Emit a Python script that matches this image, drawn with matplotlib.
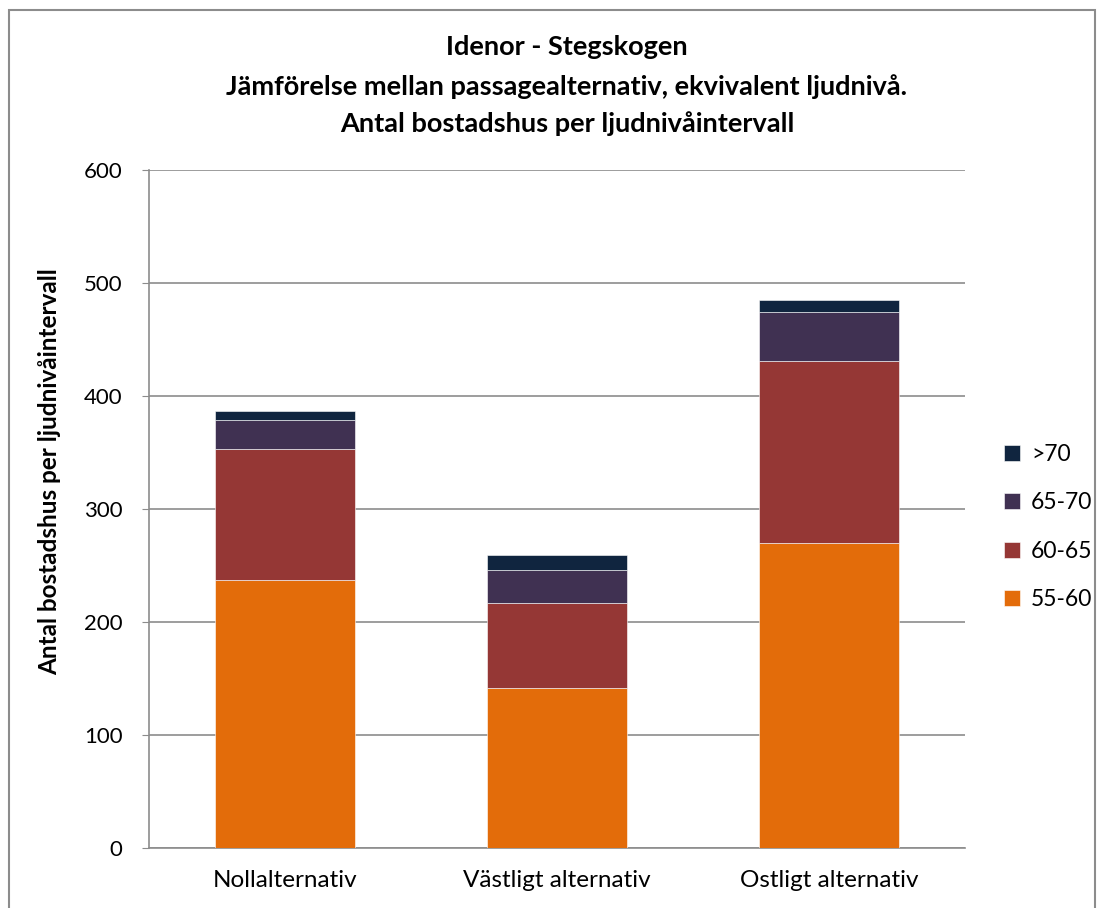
import matplotlib
matplotlib.use("Agg")
import matplotlib.pyplot as plt
from matplotlib.patches import Rectangle

categories = ["Nollalternativ", "Västligt alternativ", "Ostligt alternativ"]
s55_60 = [237, 142, 270]
s60_65 = [116, 75, 161]
s65_70 = [26, 29, 43]
s70 = [8, 13, 11]
series_names = ["55-60", "60-65", "65-70", ">70"]
colors = ["#E36C0A", "#953735", "#403152", "#10253F"]
yticks = [0, 100, 200, 300, 400, 500, 600]

plt.rcParams['font.family'] = ['Lato', 'DejaVu Sans']

W, H = 1104, 908
fig = plt.figure(figsize=(W / 100, H / 100), dpi=100)
ax = fig.add_axes([149 / W, 1 - 848 / H, (965 - 149) / W, (848 - 170) / H])

x = list(range(len(categories)))
bottom = [0] * len(categories)
handles = []
for name, vals, c in zip(series_names, [s55_60, s60_65, s65_70, s70], colors):
    b = ax.bar(x, vals, width=0.515, bottom=bottom, color=c, label=name,
               edgecolor="#ffffff", linewidth=0.4, zorder=3)
    handles.append(b)
    bottom = [bo + v for bo, v in zip(bottom, vals)]

ax.set_xlim(-0.5, 2.5)
ax.set_ylim(0, 600)
ax.set_yticks(yticks)
ax.set_yticklabels([str(t) for t in yticks], fontsize=16)
ax.set_xticks(x)
ax.set_xticklabels(categories, fontsize=17.5)
ax.grid(axis="y", color="#8c8c8c", linewidth=1.2, zorder=0)
for s in ["top", "right"]:
    ax.spines[s].set_visible(False)
for s in ["left", "bottom"]:
    ax.spines[s].set_color("#8c8c8c")
    ax.spines[s].set_linewidth(1.2)
ax.tick_params(axis="y", length=5, color="#8c8c8c", pad=14)
ax.tick_params(axis="x", length=0, pad=16)

leg = fig.legend(handles[::-1], series_names[::-1], loc="center left",
                 bbox_to_anchor=(983 / W, 1 - 527 / H), frameon=False,
                 fontsize=16.5, handlelength=0.7, handleheight=0.7,
                 labelspacing=1.2, handletextpad=0.5)

fig.text(567 / W, 1 - 47 / H, "Idenor - Stegskogen", ha="center", va="center",
         fontsize=19.5, fontweight="bold")
fig.text(567 / W, 1 - 87 / H, "Jämförelse mellan passagealternativ, ekvivalent ljudnivå.",
         ha="center", va="center", fontsize=19.5, fontweight="bold")
fig.text(567 / W, 1 - 124 / H, "Antal bostadshus per ljudnivåintervall", ha="center",
         va="center", fontsize=19.5, fontweight="bold")
fig.text(50 / W, 1 - 472 / H, "Antal bostadshus per ljudnivåintervall", ha="center",
         va="center", rotation=90, fontsize=17.5, fontweight="bold")

fig.patches.append(Rectangle((9 / W, -0.05), (1095 - 9) / W, 1 - 10 / H + 0.05,
                             transform=fig.transFigure, fill=False,
                             edgecolor="#8c8c8c", linewidth=1.5))

fig.savefig("out.png", dpi=100)
